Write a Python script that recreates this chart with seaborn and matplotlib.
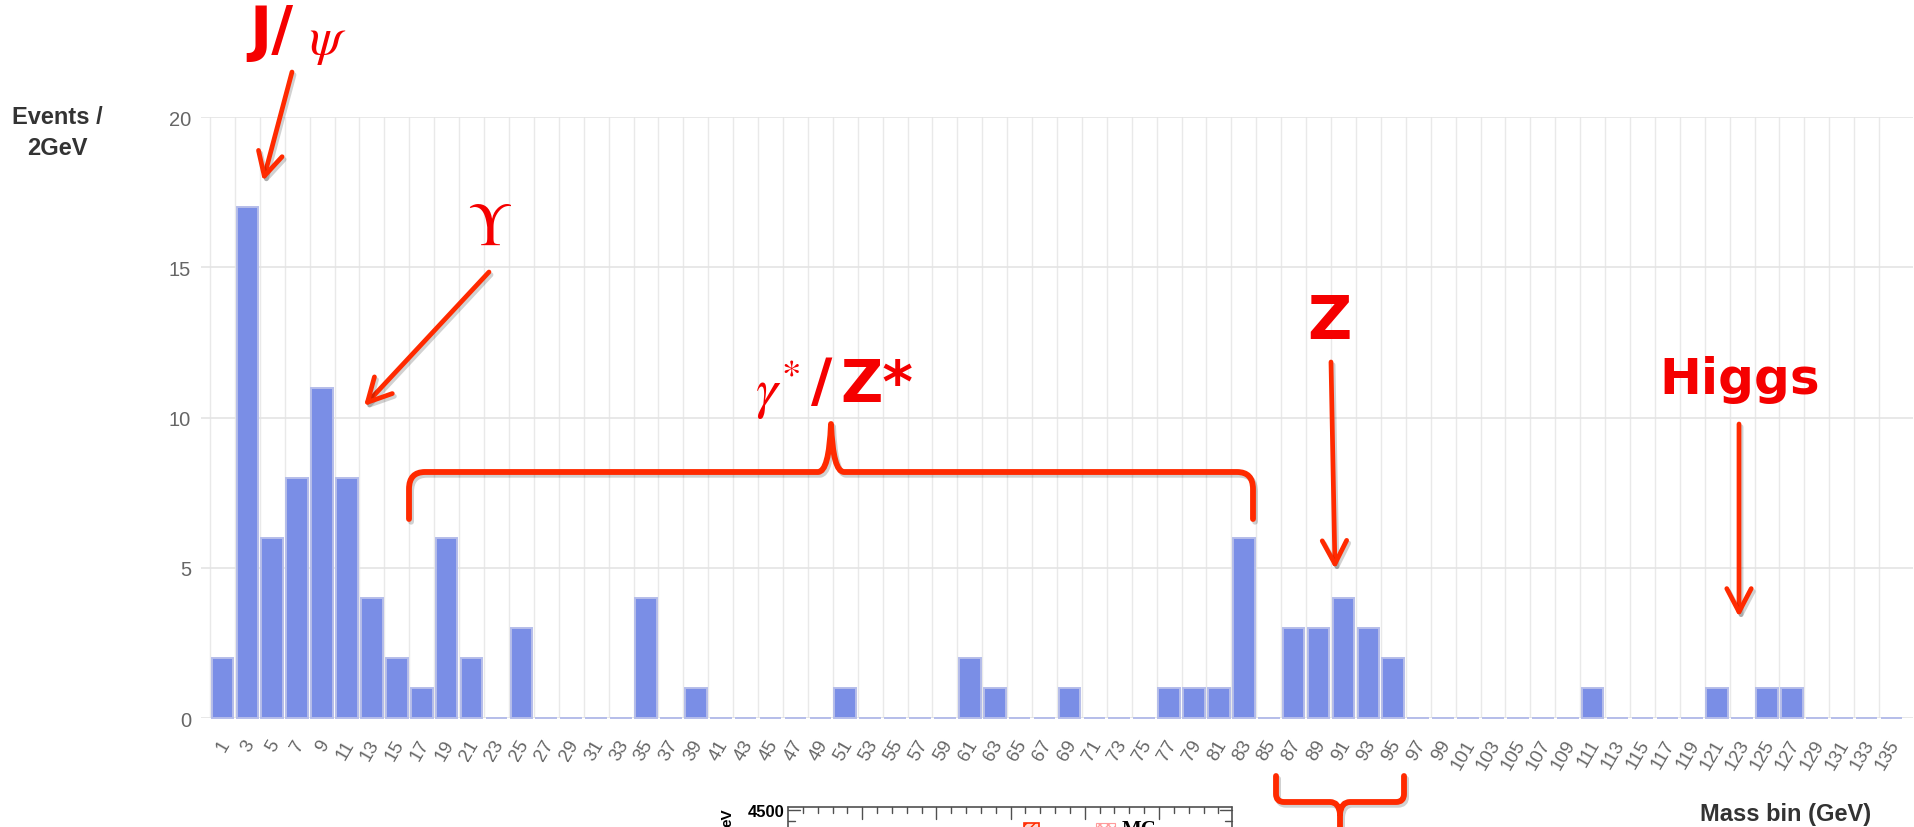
import numpy as np
import pandas as pd
import matplotlib
matplotlib.use("Agg")
import matplotlib.pyplot as plt
import seaborn as sns
from matplotlib.path import Path
from matplotlib.patches import PathPatch, FancyArrowPatch, Rectangle
from matplotlib.lines import Line2D
import matplotlib.patheffects as pe
import matplotlib.transforms as mtrans

# ---------------- data ----------------
mass_bins = ["1", "3", "5", "7", "9", "11", "13", "15", "17", "19",
             "21", "23", "25", "27", "29", "31", "33", "35", "37", "39",
             "41", "43", "45", "47", "49", "51", "53", "55", "57", "59",
             "61", "63", "65", "67", "69", "71", "73", "75", "77", "79",
             "81", "83", "85", "87", "89", "91", "93", "95", "97", "99",
             "101", "103", "105", "107", "109", "111", "113", "115", "117", "119",
             "121", "123", "125", "127", "129", "131", "133", "135"]
events = [2, 17, 6, 8, 11, 8, 4, 2, 1, 6,
          2, 0, 3, 0, 0, 0, 0, 4, 0, 1,
          0, 0, 0, 0, 0, 1, 0, 0, 0, 0,
          2, 1, 0, 0, 1, 0, 0, 0, 1, 1,
          1, 6, 0, 3, 3, 4, 3, 2, 0, 0,
          0, 0, 0, 0, 0, 1, 0, 0, 0, 0,
          1, 0, 1, 1, 0, 0, 0, 0]
y_ticks = [0, 5, 10, 15, 20]
y_title = "Events /\n2GeV"
x_title = "Mass bin (GeV)"

df = pd.DataFrame({"mass": mass_bins, "events": events})

# ---------------- style ----------------
sns.set_style("white")
plt.rcParams["font.family"] = ["Liberation Sans", "DejaVu Sans"]
plt.rcParams["mathtext.fontset"] = "stix"

W, H = 1915, 828
fig = plt.figure(figsize=(W / 100, H / 100), dpi=100)
fig.patch.set_facecolor("white")

# axes placement in pixels (top-left origin)
ax_l, ax_r, ax_t, ax_b = 201, 1913, 118, 719.3
ax = fig.add_axes([ax_l / W, 1 - ax_b / H, (ax_r - ax_l) / W, (ax_b - ax_t) / H])

sns.barplot(data=df, x="mass", y="events", order=mass_bins, color="#7A8EE6",
            saturation=1, width=0.87, edgecolor="#B5BDEA", linewidth=1.4, ax=ax,
            zorder=3)
for p in ax.patches:
    p.set_clip_on(False)

pitch = (1904 - 210) / 68.0
ext = 9 / pitch
ax.set_xlim(-0.5 - ext, 67.5 + ext)
ax.set_ylim(0, 20)
ax.set_yticks(y_ticks)
ax.set_xticks(range(len(mass_bins)))
ax.set_xticklabels(mass_bins)
ax.set_xticks(np.arange(-0.5, 67.0, 1.0), minor=True)
ax.set_xlabel("")
ax.set_ylabel("")
for s in ax.spines.values():
    s.set_visible(False)
ax.set_axisbelow(True)
ax.grid(False)
ax.grid(True, which="major", axis="y", color="#E4E4E4", lw=1.2, zorder=0)
ax.grid(True, which="minor", axis="x", color="#E9E9E9", lw=1.0, zorder=0)

ax.tick_params(axis="y", which="both", length=0, pad=7.2, labelsize=14.5,
               labelcolor="#666666")
ax.tick_params(axis="x", which="major", length=0, pad=13, labelsize=13.5,
               labelcolor="#666666")
ax.tick_params(axis="x", which="minor", length=5, width=1, color="#DADADA",
               direction="out")
offset = mtrans.ScaledTranslation(-4 / 100, 0, fig.dpi_scale_trans)
for lab in ax.get_xticklabels():
    lab.set_rotation(60)
    lab.set_ha("right")
    lab.set_va("top")
    lab.set_rotation_mode("anchor")
    lab.set_transform(lab.get_transform() + offset)


def P(x, y):
    return (x / W, 1 - y / H)


# axis titles
fig.text(*P(57, 133), y_title, ha="center", va="center", fontsize=17,
         fontweight="bold", color="#333333", linespacing=1.45,
         multialignment="center")
fig.text(*P(1786, 815), x_title, ha="center", va="center", fontsize=17,
         fontweight="bold", color="#333333")

# ---------------- red annotations ----------------
RED = "#FF2A00"
TXT = "#F50000"
HAND = ["DejaVu Sans"]
shadow = [pe.SimpleLineShadow(offset=(1.5, -2), shadow_color="k", alpha=0.18),
          pe.Normal()]


def arrow(p0, p1):
    a = FancyArrowPatch(P(*p0), P(*p1), transform=fig.transFigure,
                        arrowstyle="->,head_length=0.42,head_width=0.22",
                        mutation_scale=40, lw=3.4, color=RED,
                        shrinkA=0, shrinkB=0, capstyle="round",
                        joinstyle="round", path_effects=shadow)
    fig.add_artist(a)


def path(verts, codes, lw=4.2):
    vv = [P(x, y) for x, y in verts]
    pp = PathPatch(Path(vv, codes), transform=fig.transFigure, fill=False,
                   edgecolor=RED, lw=lw, capstyle="round", joinstyle="round",
                   path_effects=shadow)
    fig.add_artist(pp)


M, L, C = Path.MOVETO, Path.LINETO, Path.CURVE3

# gamma*/Z* brace
path([(409, 520), (409, 490), (409, 473), (425, 473), (818, 473),
      (829, 473), (831, 425), (833, 473), (844, 473), (1237, 473),
      (1253, 473), (1253, 490), (1253, 520)],
     [M, L, C, C, L, C, C, C, C, L, C, C, L])

# bottom bracket under Z peak
path([(1276, 777), (1276, 795), (1276, 803), (1284, 803), (1330, 803),
      (1339, 803), (1340, 815), (1340, 840),
      (1340, 815), (1341, 803), (1350, 803), (1396, 803),
      (1404, 803), (1404, 795), (1404, 777)],
     [M, L, C, C, L, C, C, L,
      M, C, C, L, C, C, L])

arrow((292, 73), (263, 182))
arrow((489, 273), (364, 407))
arrow((1331, 363), (1335, 570))
arrow((1739, 425), (1739, 618))

fig.text(*P(271, 33), "J/", ha="center", va="center", fontsize=43,
         fontweight="bold", color=TXT, family=HAND)
fig.text(*P(328, 42), r"$\psi$", ha="center", va="center", fontsize=38,
         color=TXT)
fig.text(*P(490, 229), r"$\Upsilon$", ha="center", va="center", fontsize=44,
         color=TXT)
fig.text(*P(778, 390), r"$\gamma^{*}$", ha="center", va="center", fontsize=40,
         color=TXT)
fig.text(*P(822, 385), "/", ha="center", va="center", fontsize=42,
         fontweight="bold", color=TXT, family=HAND)
fig.text(*P(877, 385), "Z*", ha="center", va="center", fontsize=42,
         fontweight="bold", color=TXT, family=HAND)
fig.text(*P(1329, 323), "Z", ha="center", va="center", fontsize=44,
         fontweight="bold", color=TXT, family=HAND)
fig.text(*P(1740, 380), "Higgs", ha="center", va="center", fontsize=36,
         fontweight="bold", color=TXT, family=HAND)

# ---------------- cropped fragment of another plot at the bottom ----------------
FR = "#505050"


def seg(x0, y0, x1, y1, lw=1.2, c=FR):
    fig.add_artist(Line2D([x0 / W, x1 / W], [1 - y0 / H, 1 - y1 / H],
                          transform=fig.transFigure, color=c, lw=lw))


seg(788, 808, 1232, 808)
seg(788, 808, 788, 830)
seg(1232, 808, 1232, 830)
maj = 74.2
for k in range(7):
    xm = 788 + maj * k
    if 790 < xm < 1230:
        seg(xm, 808, xm, 820, lw=1.0)
    for j in range(1, 5):
        xn = xm + maj / 5 * j
        if xn < 1230:
            seg(xn, 808, xn, 814, lw=1.0)
for yy, ln in [(811, 12), (822, 7)]:
    seg(788, yy, 788 + ln, yy, lw=1.0)
    seg(1232 - ln, yy, 1232, yy, lw=1.0)
fig.text(*P(785, 813), "4500", ha="right", va="center", fontsize=12,
         fontweight="bold", color="black")
fig.text(*P(727, 818), "eV", ha="center", va="center", fontsize=11,
         fontweight="bold", color="black", rotation=90)
fig.add_artist(Rectangle(P(1024, 832), 15 / W, 8 / H, transform=fig.transFigure,
                         facecolor="#FFD8D0", edgecolor="#FF2A00", lw=1.2,
                         hatch="////"))
fig.add_artist(Rectangle(P(1096, 832), 19 / W, 8 / H, transform=fig.transFigure,
                         facecolor="none", edgecolor="#FF9C9C", lw=0.8,
                         hatch="xxxx"))
fig.text(*P(1122, 820), "MC", ha="left", va="top", fontsize=15,
         fontweight="bold", color="black", family=["Liberation Serif", "DejaVu Serif"])

fig.savefig("out.png", dpi=100, facecolor="white")
